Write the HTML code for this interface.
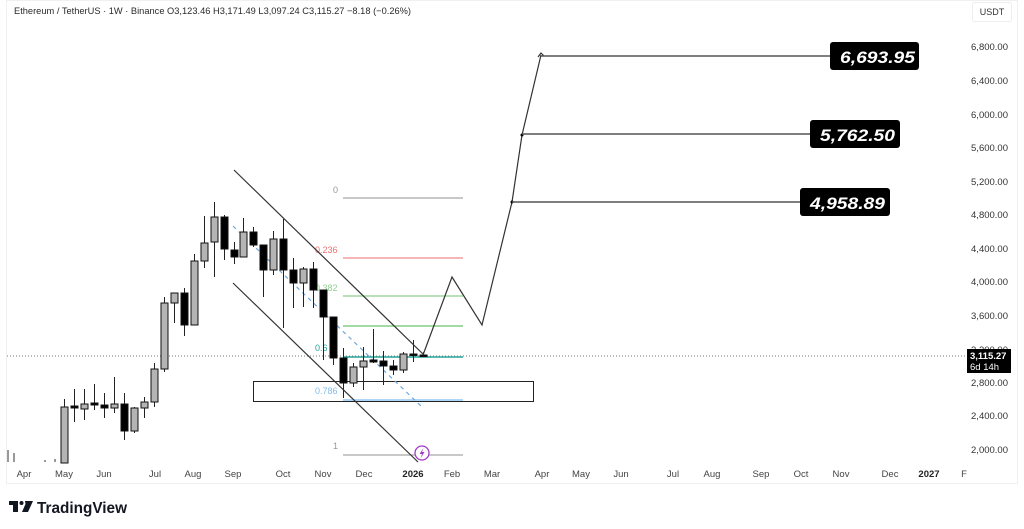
<!DOCTYPE html>
<html><head><meta charset="utf-8"><style>
html,body{margin:0;padding:0;background:#fff;}
svg{display:block;}
text{font-family:"Liberation Sans",sans-serif;}
</style></head><body>
<svg width="1024" height="529" viewBox="0 0 1024 529" xmlns="http://www.w3.org/2000/svg">
<rect width="1024" height="529" fill="#fff"/>
<rect x="6.5" y="0.5" width="1011" height="483" fill="none" stroke="#f0f0f0" stroke-width="1"/>
<text x="14" y="14" font-size="9.5" fill="#2a2a2a" textLength="397" lengthAdjust="spacingAndGlyphs">Ethereum / TetherUS · 1W · Binance  O3,123.46  H3,171.49  L3,097.24  C3,115.27  −8.18 (−0.26%)</text>
<rect x="972.5" y="2.5" width="39" height="19" rx="2" fill="#fff" stroke="#eee"/>
<text x="992" y="15" font-size="9" fill="#333" text-anchor="middle">USDT</text>
<g font-size="9.5" fill="#333" text-anchor="end">
<text x="1008" y="50">6,800.00</text>
<text x="1008" y="84">6,400.00</text>
<text x="1008" y="118">6,000.00</text>
<text x="1008" y="151">5,600.00</text>
<text x="1008" y="185">5,200.00</text>
<text x="1008" y="218">4,800.00</text>
<text x="1008" y="252">4,400.00</text>
<text x="1008" y="285">4,000.00</text>
<text x="1008" y="319">3,600.00</text>
<text x="1008" y="353">3,200.00</text>
<text x="1008" y="386">2,800.00</text>
<text x="1008" y="419">2,400.00</text>
<text x="1008" y="453">2,000.00</text>
</g>
<line x1="7" y1="356" x2="967" y2="356" stroke="#777" stroke-width="1" stroke-dasharray="1,2"/>
<rect x="967" y="349" width="44" height="24" fill="#000"/>
<text x="970" y="359" font-size="9.5" fill="#fff" font-weight="bold">3,115.27</text>
<text x="970" y="370" font-size="9.5" fill="#fff">6d 14h</text>
<g font-size="9.5" fill="#444" text-anchor="middle">
<text x="24" y="477">Apr</text>
<text x="64" y="477">May</text>
<text x="104" y="477">Jun</text>
<text x="155" y="477">Jul</text>
<text x="193" y="477">Aug</text>
<text x="233" y="477">Sep</text>
<text x="283" y="477">Oct</text>
<text x="323" y="477">Nov</text>
<text x="364" y="477">Dec</text>
<text x="413" y="477" font-weight="bold" fill="#222">2026</text>
<text x="452" y="477">Feb</text>
<text x="492" y="477">Mar</text>
<text x="542" y="477">Apr</text>
<text x="581" y="477">May</text>
<text x="621" y="477">Jun</text>
<text x="673" y="477">Jul</text>
<text x="712" y="477">Aug</text>
<text x="761" y="477">Sep</text>
<text x="801" y="477">Oct</text>
<text x="841" y="477">Nov</text>
<text x="890" y="477">Dec</text>
<text x="929" y="477" font-weight="bold" fill="#222">2027</text>
<text x="964" y="477">F</text>
</g>
<g stroke-width="1.2">
<line x1="343" y1="198" x2="463" y2="198" stroke="#a8a8a8"/>
<line x1="343" y1="258" x2="463" y2="258" stroke="#f28b8b"/>
<line x1="343" y1="296" x2="463" y2="296" stroke="#8fcf8f"/>
<line x1="343" y1="326" x2="463" y2="326" stroke="#6cc46c"/>
<line x1="343" y1="357" x2="463" y2="357" stroke="#26a69a" stroke-width="1.5"/>
<line x1="343" y1="400" x2="463" y2="400" stroke="#7fbdf0"/>
<line x1="343" y1="455" x2="463" y2="455" stroke="#a8a8a8"/>
</g>
<g font-size="9">
<text x="333" y="193" fill="#999">0</text>
<text x="315" y="253" fill="#f07070">0.236</text>
<text x="315" y="291" fill="#8fcf8f">0.382</text>
<text x="315" y="351" fill="#26a69a">0.6</text>
<text x="315" y="394" fill="#7fbdf0">0.786</text>
<text x="333" y="449" fill="#999">1</text>
</g>
<rect x="253.5" y="381.5" width="280" height="20" fill="none" stroke="#222" stroke-width="1"/>
<line x1="233" y1="226" x2="422" y2="407" stroke="#6fa8dc" stroke-width="1.2" stroke-dasharray="4,4"/>
<g stroke="#555" stroke-width="1.2">
<line x1="8" y1="450" x2="8" y2="462"/>
<line x1="14" y1="453" x2="14" y2="462"/>
<line x1="45" y1="460" x2="45" y2="462"/>
<line x1="55" y1="459" x2="55" y2="462"/>
</g>
<!-- wicks -->
<g stroke="#222" stroke-width="1">
<line x1="64.5" y1="399" x2="64.5" y2="463"/>
<line x1="74.5" y1="389" x2="74.5" y2="422"/>
<line x1="84.5" y1="389" x2="84.5" y2="420"/>
<line x1="94.5" y1="384" x2="94.5" y2="410"/>
<line x1="104.5" y1="393" x2="104.5" y2="418"/>
<line x1="114.5" y1="377" x2="114.5" y2="413"/>
<line x1="124.5" y1="393" x2="124.5" y2="440"/>
<line x1="134.5" y1="407" x2="134.5" y2="433"/>
<line x1="144.5" y1="397" x2="144.5" y2="418"/>
<line x1="154.5" y1="363" x2="154.5" y2="407"/>
<line x1="164.5" y1="297" x2="164.5" y2="372"/>
<line x1="174.5" y1="293" x2="174.5" y2="323"/>
<line x1="184.5" y1="288" x2="184.5" y2="336"/>
<line x1="194.5" y1="254" x2="194.5" y2="325"/>
<line x1="204.5" y1="216" x2="204.5" y2="268"/>
<line x1="214.5" y1="202" x2="214.5" y2="277"/>
<line x1="224.5" y1="215" x2="224.5" y2="260"/>
<line x1="234.5" y1="242" x2="234.5" y2="264"/>
<line x1="243.5" y1="218" x2="243.5" y2="257"/>
<line x1="253.5" y1="227" x2="253.5" y2="247"/>
<line x1="263.5" y1="245" x2="263.5" y2="297"/>
<line x1="273.5" y1="231" x2="273.5" y2="275"/>
<line x1="283.5" y1="219" x2="283.5" y2="328"/>
<line x1="293.5" y1="258" x2="293.5" y2="308"/>
<line x1="303.5" y1="267" x2="303.5" y2="307"/>
<line x1="313.5" y1="262" x2="313.5" y2="308"/>
<line x1="323.5" y1="290" x2="323.5" y2="360"/>
<line x1="333.5" y1="317" x2="333.5" y2="365"/>
<line x1="343.5" y1="348" x2="343.5" y2="398"/>
<line x1="353.5" y1="363" x2="353.5" y2="387"/>
<line x1="363.5" y1="347" x2="363.5" y2="390"/>
<line x1="373.5" y1="329" x2="373.5" y2="363"/>
<line x1="383.5" y1="351" x2="383.5" y2="385"/>
<line x1="393.5" y1="360" x2="393.5" y2="375"/>
<line x1="403.5" y1="352" x2="403.5" y2="373"/>
<line x1="413.5" y1="340" x2="413.5" y2="362"/>
<line x1="423.5" y1="352" x2="423.5" y2="357"/>
</g>
<!-- gray bodies -->
<g fill="#b4b4b4" stroke="#111" stroke-width="1">
<rect x="61" y="407" width="7" height="56"/>
<rect x="81" y="404" width="7" height="5"/>
<rect x="111" y="404" width="7" height="4"/>
<rect x="131" y="408" width="7" height="23"/>
<rect x="141" y="402" width="7" height="6"/>
<rect x="151" y="369" width="7" height="33"/>
<rect x="161" y="303" width="7" height="66"/>
<rect x="171" y="293" width="7" height="10"/>
<rect x="191" y="261" width="7" height="64"/>
<rect x="201" y="243" width="7" height="18"/>
<rect x="211" y="217" width="7" height="25"/>
<rect x="240" y="232" width="7" height="25"/>
<rect x="270" y="239" width="7" height="31"/>
<rect x="300" y="269" width="7" height="14"/>
<rect x="350" y="367" width="7" height="16"/>
<rect x="360" y="361" width="7" height="6"/>
<rect x="400" y="354" width="7" height="16"/>
</g>
<!-- black bodies -->
<g fill="#000" stroke="#111" stroke-width="1">
<rect x="71" y="406" width="7" height="2"/>
<rect x="91" y="403" width="7" height="2"/>
<rect x="101" y="405" width="7" height="3"/>
<rect x="121" y="404" width="7" height="27"/>
<rect x="181" y="293" width="7" height="32"/>
<rect x="221" y="217" width="7" height="32"/>
<rect x="231" y="250" width="7" height="7"/>
<rect x="250" y="232" width="7" height="13"/>
<rect x="260" y="245" width="7" height="25"/>
<rect x="280" y="239" width="7" height="31"/>
<rect x="290" y="270" width="7" height="13"/>
<rect x="310" y="269" width="7" height="21"/>
<rect x="320" y="290" width="7" height="27"/>
<rect x="330" y="317" width="7" height="41"/>
<rect x="340" y="358" width="7" height="25"/>
<rect x="370" y="360" width="7" height="2"/>
<rect x="380" y="361" width="7" height="5"/>
<rect x="390" y="366" width="7" height="4"/>
<rect x="410" y="354" width="7" height="1.5"/>
<rect x="420" y="355" width="7" height="1.5"/>
</g>
<line x1="234" y1="170" x2="424" y2="355" stroke="#333" stroke-width="1.2"/>
<line x1="233" y1="283" x2="418" y2="462" stroke="#333" stroke-width="1.2"/>
<polyline points="423,355 452,277 482,325 512,202 522,135 541,55" fill="none" stroke="#333" stroke-width="1.2"/>
<polyline points="538,57 541,53 544,56" fill="none" stroke="#333" stroke-width="1.2"/>
<circle cx="512" cy="202" r="1.5" fill="#000"/>
<circle cx="522" cy="135" r="1.5" fill="#000"/>
<line x1="541" y1="56" x2="830" y2="56" stroke="#555" stroke-width="1.5"/>
<line x1="522" y1="134" x2="810" y2="134" stroke="#555" stroke-width="1.5"/>
<line x1="512" y1="202" x2="800" y2="202" stroke="#555" stroke-width="1.5"/>
<rect x="830" y="42" width="89" height="28" rx="3" fill="#000"/>
<text x="840" y="63" font-size="17" font-weight="bold" font-style="italic" fill="#fff" textLength="75" lengthAdjust="spacingAndGlyphs">6,693.95</text>
<rect x="810" y="120" width="90" height="28" rx="3" fill="#000"/>
<text x="820" y="141" font-size="17" font-weight="bold" font-style="italic" fill="#fff" textLength="75" lengthAdjust="spacingAndGlyphs">5,762.50</text>
<rect x="800" y="188" width="90" height="28" rx="3" fill="#000"/>
<text x="810" y="209" font-size="17" font-weight="bold" font-style="italic" fill="#fff" textLength="75" lengthAdjust="spacingAndGlyphs">4,958.89</text>
<circle cx="422" cy="453" r="7" fill="#fff" stroke="#a33bc7" stroke-width="1.3"/>
<path d="M423.5,448 L419.5,454 L422,454 L420.5,458.5 L424.5,452 L422,452 Z" fill="#a33bc7"/>
<g fill="#131722">
<rect x="9" y="501" width="9" height="4"/>
<rect x="13" y="501" width="5" height="11"/>
<circle cx="21.5" cy="503" r="2"/>
<polygon points="25,501 33,501 28,512 22,512 25.5,504"/>
</g>
<text x="37" y="513" font-size="16" font-weight="bold" fill="#131722" textLength="90" lengthAdjust="spacingAndGlyphs">TradingView</text>
</svg>
</body></html>
